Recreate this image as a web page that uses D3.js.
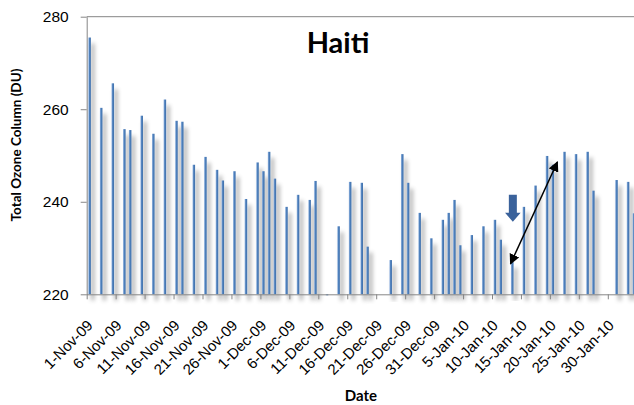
<!DOCTYPE html>
<html>
<head>
<meta charset="utf-8">
<script src="https://cdn.jsdelivr.net/npm/d3@7"></script>
<style>
  body { margin: 0; background: #fff; }
  svg { display: block; font-family: Lato, "Open Sans", sans-serif; }
  .axis path, .axis line { stroke: #868686; }
</style>
</head>
<body>
<svg id="chart" width="634" height="405"></svg>
<script>
// daily total ozone, 1-Nov-09 .. 3-Feb-10 (null = no reading)
var startDate = "2009-11-01";
var ozone = [
  275.5, null, 260.3, null, 265.6, null, 255.7, 255.5, null, 258.6,
  null, 254.7, null, 262.1, null, 257.5, 257.3, null, 248.0, null,
  249.7, null, 246.9, 244.6, null, 246.6, null, 240.6, null, 248.5,
  246.6, 250.8, 245.0, null, 238.9, null, 241.5, null, 240.4, 244.5,
  null, 219.8, null, 234.7, null, 244.3, null, 244.1, 230.3, null,
  null, null, 227.4, null, 250.3, 244.1, null, 237.6, null, 232.1,
  null, 236.1, 237.6, 240.4, 230.6, null, 232.8, null, 234.7, null,
  236.1, 231.8, null, 227.0, null, 238.9, null, 243.5, null, 249.9,
  248.0, null, 250.8, null, 250.3, null, 250.8, 242.4, null, null,
  null, 244.7, null, 244.3, 237.5
];
var tickLabels = ["1-Nov-09", "6-Nov-09", "11-Nov-09", "16-Nov-09", "21-Nov-09",
  "26-Nov-09", "1-Dec-09", "6-Dec-09", "11-Dec-09", "16-Dec-09", "21-Dec-09",
  "26-Dec-09", "31-Dec-09", "5-Jan-10", "10-Jan-10", "15-Jan-10", "20-Jan-10",
  "25-Jan-10", "30-Jan-10"];
var yTicks = [220, 240, 260, 280];

// annotations in data units (day index, DU)
var dropArrow = { day: 73.6, from: 241.5, to: 235.7 };
var riseArrow = { from: [73.2, 226.6], to: [81.3, 248.6] };

var svg = d3.select("#chart");
var plot = { l: 86.7, t: 16.7, b: 294.3, dayW: 5.79 };
var nDays = ozone.length;

var xDay = d3.scaleLinear().domain([0, nDays]).range([plot.l, plot.l + nDays * plot.dayW]);
var xBand = d3.scaleBand().domain(d3.range(nDays)).range([plot.l, plot.l + nDays * plot.dayW]).paddingInner(0.56).paddingOuter(0.28);
var yScale = d3.scaleLinear().domain([220, 280]).range([plot.b, plot.t]);

var defs = svg.append("defs");
var grad = defs.append("linearGradient").attr("id", "barGrad").attr("x1", 0).attr("x2", 1).attr("y1", 0).attr("y2", 0);
grad.append("stop").attr("offset", "0%").attr("stop-color", "#9dbbe3");
grad.append("stop").attr("offset", "45%").attr("stop-color", "#4f81bd");
grad.append("stop").attr("offset", "100%").attr("stop-color", "#3e6ea9");

var shadow = defs.append("filter").attr("id", "shadow")
  .attr("x", "-300%").attr("y", "-10%").attr("width", "800%").attr("height", "130%");
shadow.append("feDropShadow").attr("dx", 3.2).attr("dy", 6).attr("stdDeviation", 2.2)
  .attr("flood-color", "#000").attr("flood-opacity", 0.42);

var arrowHead = defs.append("marker").attr("id", "head")
  .attr("viewBox", "0 0 10 10").attr("refX", 9).attr("refY", 5)
  .attr("markerWidth", 7).attr("markerHeight", 7).attr("markerUnits", "strokeWidth")
  .attr("orient", "auto-start-reverse");
arrowHead.append("path").attr("d", "M0,0L10,5L0,10Z").attr("fill", "#000");

// top border of plot area
svg.append("line")
  .attr("x1", plot.l).attr("x2", 634).attr("y1", plot.t).attr("y2", plot.t)
  .attr("stroke", "#868686");

// bars
var rows = ozone.map(function (v, i) { return { day: i, value: v }; })
  .filter(function (d) { return d.value !== null; });

svg.append("g")
  .selectAll("rect")
  .data(rows)
  .enter()
  .append("rect")
  .attr("x", d => xBand(d.day))
  .attr("width", xBand.bandwidth())
  .attr("y", d => Math.min(yScale(d.value), plot.b))
  .attr("height", d => Math.max(Math.abs(plot.b - yScale(d.value)), 1))
  .attr("fill", "url(#barGrad)")
  .attr("filter", d => d.value > 220 ? "url(#shadow)" : null);

// axes
var xAxis = d3.axisBottom(xDay)
  .tickValues(d3.range(0, nDays, 5))
  .tickFormat((d, i) => tickLabels[i])
  .tickSize(5)
  .tickSizeOuter(0);

svg.append("g")
  .attr("class", "axis")
  .attr("transform", "translate(0," + plot.b + ")")
  .call(xAxis)
  .call(g => g.select(".domain").attr("d", "M" + plot.l + ",0.5H634"))
  .selectAll("text")
  .attr("fill", "#000")
  .attr("font-size", 15)
  .attr("text-anchor", "end")
  .attr("dy", 0)
  .attr("y", 0)
  .attr("transform", "translate(6.5,32) rotate(-45)");

var yAxis = d3.axisLeft(yScale).tickValues(yTicks).tickSize(6).tickPadding(12).tickSizeOuter(0);
svg.append("g")
  .attr("class", "axis")
  .attr("transform", "translate(" + plot.l + ",0)")
  .call(yAxis)
  .selectAll("text")
  .attr("fill", "#000")
  .attr("font-size", 15.5);

// titles
svg.append("text")
  .attr("x", 338).attr("y", 53)
  .attr("text-anchor", "middle")
  .attr("font-size", 29).attr("font-weight", "bold")
  .text("Haiti");

svg.append("text")
  .attr("x", 361).attr("y", 401)
  .attr("text-anchor", "middle")
  .attr("font-size", 15).attr("font-weight", "bold")
  .text("Date");

svg.append("text")
  .attr("transform", "translate(21,145) rotate(-90)")
  .attr("text-anchor", "middle")
  .attr("font-size", 13.5).attr("font-weight", "bold")
  .text("Total Ozone Column (DU)");

// annotations
var ax = xDay(dropArrow.day), y0 = yScale(dropArrow.from), y1 = yScale(dropArrow.to);
var headY = y0 + (y1 - y0) * 0.67;
svg.append("path")
  .attr("d", "M" + (ax - 4) + "," + y0 + "H" + (ax + 4) + "V" + headY + "H" + (ax + 7.8) +
    "L" + ax + "," + y1 + "L" + (ax - 7.8) + "," + headY + "H" + (ax - 4) + "Z")
  .attr("fill", "#3a629b");

svg.append("line")
  .attr("x1", xDay(riseArrow.from[0])).attr("y1", yScale(riseArrow.from[1]))
  .attr("x2", xDay(riseArrow.to[0])).attr("y2", yScale(riseArrow.to[1]))
  .attr("stroke", "#000").attr("stroke-width", 1.5)
  .attr("marker-start", "url(#head)")
  .attr("marker-end", "url(#head)");
</script>
</body>
</html>
